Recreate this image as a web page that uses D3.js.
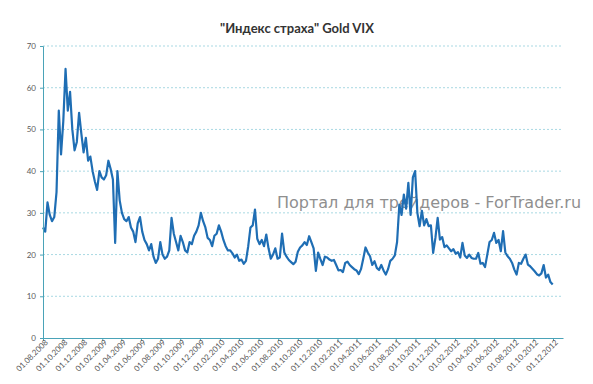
<!DOCTYPE html>
<html><head><meta charset="utf-8">
<script src="https://cdn.jsdelivr.net/npm/d3@7"></script>
<style>body{margin:0;background:#fff}</style>
</head><body>
<svg id="c" width="593" height="384"></svg>
<script>
const chartTitle = '"Индекс страха" Gold VIX';
const watermarkText = 'Портал для трейдеров - ForTrader.ru';
const seriesStart = '01.08.2008';
const weeklyValues = [
  26.5, 25.5, 32.5, 29.5, 28, 29, 35, 54.5, 44, 52,
  64.5, 54.5, 59, 50, 45, 47, 54, 49, 44.5, 48,
  42.5, 43.5, 40, 37.5, 35.5, 40, 38.5, 38, 39, 42.5,
  40.5, 38, 22.8, 40, 33, 30, 28.5, 28, 29, 26.5,
  25.5, 23, 27.5, 29, 25.5, 23.5, 22.5, 21, 22.5, 19.5,
  18, 19, 23, 20, 19, 19.5, 21,
  28.8, 25, 23, 21, 24.5, 23, 21, 20.5, 23, 22.5,
  24.5, 25.5, 27, 30, 28, 26.5, 24, 23.5, 22, 24.5,
  25, 27, 25.5, 23.5, 22, 21, 21, 20.3, 19.3, 20,
  18.5, 18.8, 17.8, 18.5, 22, 26.5, 27, 30.8, 23.8, 22.5,
  23.5, 22, 24.8, 21.5, 19, 20, 21.5, 19, 19.3, 25,
  20.5, 19.5, 18.7, 18.2, 17.7, 18.3, 20.7, 21.7, 22.2, 23,
  22.3, 24.4, 23, 21.5, 16.1, 20.5, 18.9, 17.5, 19.5, 19.3,
  18.8, 18.5, 18.7, 17.5, 16.2, 16.3, 15.8, 18, 18.3, 17.5,
  17, 16.5, 16.2, 15.3, 16.5, 19, 21.7, 20.5,
  19.6, 17.5, 18.4, 16.8, 16.3, 17.5, 16.2, 15.2, 16.5, 18.5,
  19, 19.8, 23, 32, 29.5, 34.4, 31, 37.2, 29.5, 38.5,
  40, 30, 26.8, 30.5, 27, 28.5, 26.8, 27, 20.4, 24,
  28.8, 23.6, 24.2, 21.8, 22.2, 21.5, 20.8, 21.3, 20.2, 20.6,
  19.3, 22.8, 19.8, 19.2, 20, 19.2, 19, 19, 20.4, 17.8,
  18, 17, 20, 23, 23.5, 25.2, 22.8, 23.5, 20.8, 25.6,
  20.5, 19.6, 19, 18, 16.4, 15.2, 18, 17.8, 19, 20,
  17.6, 17.2, 16.6, 16, 15.3, 15, 15.5, 17.5, 14.5, 15.2,
  13.4, 12.8
];
const xTickLabels = [
  '01.08.2008','01.10.2008','01.12.2008',
  '01.02.2009','01.04.2009','01.06.2009','01.08.2009','01.10.2009','01.12.2009',
  '01.02.2010','01.04.2010','01.06.2010','01.08.2010','01.10.2010','01.12.2010',
  '01.02.2011','01.04.2011','01.06.2011','01.08.2011','01.10.2011','01.12.2011',
  '01.02.2012','01.04.2012','01.06.2012','01.08.2012','01.10.2012','01.12.2012'
];
const xDomain = ['01.08.2008', '01.01.2013'];
const yTicks = [0, 10, 20, 30, 40, 50, 60, 70];

const parse = d3.timeParse('%d.%m.%Y');
const fmt = d3.timeFormat('%d.%m.%Y');
const start = parse(seriesStart);
const data = weeklyValues.map((v, i) => ({ date: d3.timeDay.offset(start, 7 * i), value: v }));

const svg = d3.select('#c');
const x = d3.scaleTime().domain(xDomain.map(parse)).range([43, 563]);
const y = d3.scaleLinear().domain([0, 70]).range([338, 46]);

const axisColor = '#4aa3b8';
const font = 'Lato, "Open Sans", sans-serif';

// gridlines
svg.append('g').selectAll('line').data(yTicks.filter(d => d > 0)).join('line')
  .attr('x1', x.range()[0]).attr('x2', x.range()[1])
  .attr('y1', d => y(d)).attr('y2', d => y(d))
  .attr('stroke', '#a9d9e3').attr('stroke-width', 1).attr('stroke-dasharray', '2,2');

// watermark
svg.append('text').attr('x', 277).attr('y', 208)
  .attr('font-family', '"DejaVu Sans", sans-serif').attr('font-size', 16)
  .attr('fill', '#8f8f8f').text(watermarkText);

// line
svg.append('path').datum(data)
  .attr('fill', 'none').attr('stroke', '#1f6eb4').attr('stroke-width', 2.2)
  .attr('stroke-linejoin', 'round')
  .attr('d', d3.line().x(d => x(d.date)).y(d => y(d.value)));

// y axis
const gy = svg.append('g').attr('transform', `translate(${x.range()[0]},0)`)
  .call(d3.axisLeft(y).tickValues(yTicks).tickSize(3).tickPadding(4));
gy.select('.domain').attr('stroke', axisColor);
gy.selectAll('.tick line').attr('stroke', axisColor);
gy.selectAll('.tick text').attr('font-family', font).attr('font-size', 8).attr('fill', '#5a5a5a');

// x axis
const gx = svg.append('g').attr('transform', `translate(0,${y(0)})`)
  .call(d3.axisBottom(x).tickValues(xTickLabels.map(parse)).tickFormat(fmt).tickSize(3).tickSizeOuter(0));
gx.select('.domain').attr('stroke', axisColor);
gx.selectAll('.tick line').attr('stroke', axisColor);
gx.selectAll('.tick text')
  .attr('font-family', font).attr('font-size', 8).attr('fill', '#5a5a5a')
  .attr('text-anchor', 'end')
  .attr('transform', 'translate(3,3) rotate(-45)')
  .attr('dy', '0.35em').attr('y', 0).attr('x', 0);

// title
svg.append('text').attr('x', 297).attr('y', 33).attr('text-anchor', 'middle')
  .attr('font-family', font).attr('font-size', 13).attr('font-weight', 'bold')
  .attr('fill', '#333').text(chartTitle);
</script>
</body></html>
